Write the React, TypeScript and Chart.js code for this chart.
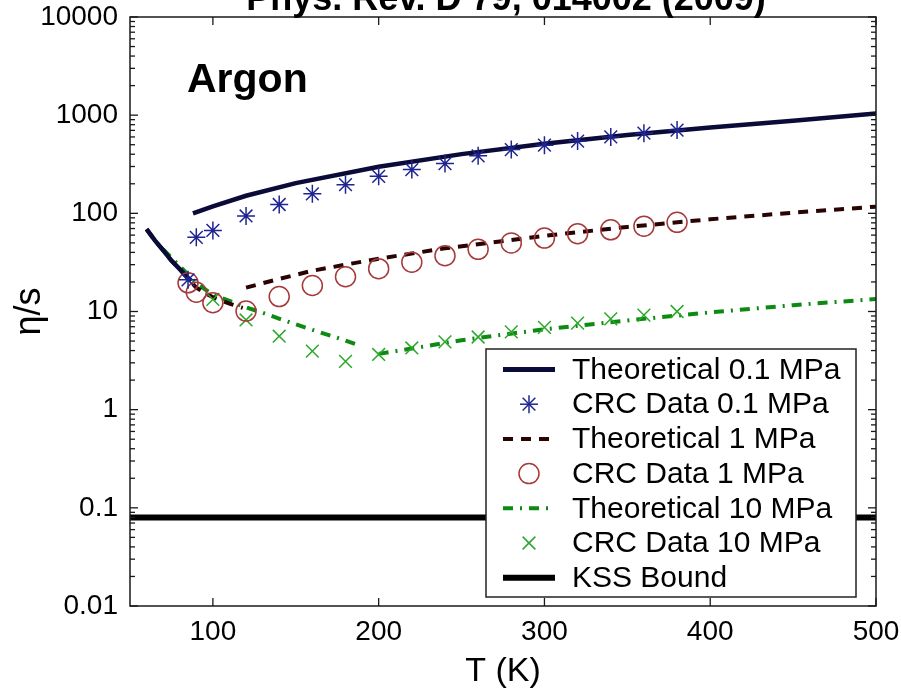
import React, { useEffect, useRef } from 'react';
import { Chart, registerables } from 'chart.js';

Chart.register(...registerables);

const FONT = '"Liberation Sans", Arial, Helvetica, sans-serif';

// ---- data ----
const theory01T = [60, 65, 70, 75, 80, 85, 87, 87.5, 88, 100, 120, 150, 200, 250, 300, 350, 400, 450, 500];
const theory01V = [69, 53, 42, 33, 27, 22, 20.5, null, 100, 118, 151, 203, 298, 401, 511, 627, 749, 876, 1040];

const crc01T = [85, 90, 100, 120, 140, 160, 180, 200, 220, 240, 260, 280, 300, 320, 340, 360, 380];
const crc01V = [21, 57, 67, 94, 123, 158, 196, 238, 279, 321, 385, 446, 495, 545, 600, 655, 705];

const theory1T = [60, 65, 70, 75, 80, 85, 90, 95, 100, 110, 118, 119, 120, 140, 160, 180, 200, 240, 300, 350, 400, 450, 500];
const theory1V = [69, 53, 42, 33, 27, 21.5, 17.5, 15.5, 14, 12, 10.9, null, 17.5, 21.5, 26, 30, 34.5, 44, 59, 72.7, 87, 101.5, 117];

const crc1T = [85, 90, 100, 120, 140, 160, 180, 200, 220, 240, 260, 280, 300, 320, 340, 360, 380];
const crc1V = [19.6, 15.7, 12.3, 10.1, 14.2, 18.4, 22.6, 27.3, 31.8, 37, 43, 50, 56, 62, 68, 74, 81];

const theory10T = [70, 80, 90, 100, 110, 118, 130, 145, 160, 175, 187, 193, 200, 220, 250, 300, 350, 400, 450, 500];
const theory10V = [43, 29, 19.5, 14.8, 12.8, 11.3, 9.7, 7.9, 6.5, 5.4, 4.6, null, 3.7, 4.2, 5.1, 6.6, 8.1, 9.8, 11.6, 13.4];

const crc10T = [100, 120, 140, 160, 180, 200, 220, 240, 260, 280, 300, 320, 340, 360, 380];
const crc10V = [13.3, 8.2, 5.6, 3.95, 3.1, 3.65, 4.25, 4.9, 5.5, 6.2, 6.9, 7.6, 8.4, 9.2, 10.0];

const kssT = [50, 500];
const kssV = [0.0796, 0.0796];

const xTicks = [100, 200, 300, 400, 500];
const yTicks = [0.01, 0.1, 1, 10, 100, 1000, 10000];
const yMinorMult = [2, 3, 4, 5, 6, 7, 8, 9];

const legendLabels = [
  'Theoretical 0.1 MPa',
  'CRC Data 0.1 MPa',
  'Theoretical 1 MPa',
  'CRC Data 1 MPa',
  'Theoretical 10 MPa',
  'CRC Data 10 MPa',
  'KSS Bound',
];

const titleText = 'Phys. Rev. D 79, 014002 (2009)';
const gasText = 'Argon';

const C01 = '#0a0b38';
const STAR = '#1f2590';
const C1 = '#2a0303';
const CIRC = '#a63a3a';
const C10 = '#0d8a12';
const XCOL = '#2aa82a';

const zip = (xs: number[], ys: (number | null)[]) => xs.map((x, i) => ({ x, y: ys[i] }));

const noPad = (s: any) => {
  s.paddingTop = 0;
  s.paddingBottom = 0;
  s.paddingLeft = 0;
  s.paddingRight = 0;
};

const decorPlugin = {
  id: 'decor',
  afterDraw(chart: any) {
    const { ctx, chartArea: a, scales } = chart;
    const x = scales.x;
    const y = scales.y;
    ctx.save();
    // frame
    ctx.strokeStyle = '#1a1a1a';
    ctx.lineWidth = 1.5;
    ctx.strokeRect(a.left, a.top, a.right - a.left, a.bottom - a.top);
    const seg = (x1: number, y1: number, x2: number, y2: number) => {
      ctx.beginPath();
      ctx.moveTo(x1, y1);
      ctx.lineTo(x2, y2);
      ctx.stroke();
    };
    ctx.lineWidth = 1.3;
    xTicks.forEach((v) => {
      const px = x.getPixelForValue(v);
      seg(px, a.bottom, px, a.bottom - 8);
      seg(px, a.top, px, a.top + 8);
    });
    yTicks.forEach((v, i) => {
      const py = y.getPixelForValue(v);
      seg(a.left, py, a.left + 8, py);
      seg(a.right, py, a.right - 8, py);
      if (i < yTicks.length - 1) {
        yMinorMult.forEach((m) => {
          const pm = y.getPixelForValue(v * m);
          seg(a.left, pm, a.left + 5, pm);
          seg(a.right, pm, a.right - 5, pm);
        });
      }
    });

    // title (partly cut at the top, as in the reference)
    ctx.fillStyle = '#000';
    ctx.font = `bold 36px ${FONT}`;
    ctx.textAlign = 'center';
    ctx.textBaseline = 'alphabetic';
    ctx.fillText(titleText, (a.left + a.right) / 2 + 3, a.top - 7);

    // gas label
    ctx.font = `bold 41px ${FONT}`;
    ctx.textAlign = 'left';
    ctx.fillText(gasText, a.left + 57, a.top + 75);

    // legend
    const lx = a.left + 356;
    const ly = a.top + 332;
    const lw = 370;
    const lh = 248;
    ctx.fillStyle = '#fff';
    ctx.fillRect(lx, ly, lw, lh);
    ctx.strokeStyle = '#222';
    ctx.lineWidth = 1.5;
    ctx.strokeRect(lx, ly, lw, lh);
    const rowH = 34.7;
    const sx1 = lx + 17;
    const sx2 = lx + 69;
    const mx = (sx1 + sx2) / 2;
    ctx.font = `30px ${FONT}`;
    ctx.textBaseline = 'middle';
    legendLabels.forEach((lab, i) => {
      const cy = ly + 20.5 + i * rowH;
      ctx.save();
      if (i === 0 || i === 2 || i === 4 || i === 6) {
        ctx.lineWidth = i === 6 ? 6 : i === 0 ? 5 : 4;
        ctx.strokeStyle = i === 0 ? C01 : i === 2 ? C1 : i === 4 ? C10 : '#000';
        if (i === 2) ctx.setLineDash([10, 8]);
        if (i === 4) ctx.setLineDash([10, 7, 2, 7]);
        seg(sx1, cy, sx2, cy);
      } else if (i === 1) {
        ctx.strokeStyle = STAR;
        ctx.lineWidth = 1.5;
        const r = 9;
        seg(mx - r, cy, mx + r, cy);
        seg(mx, cy - r, mx, cy + r);
        const d = r * Math.SQRT1_2;
        seg(mx - d, cy - d, mx + d, cy + d);
        seg(mx - d, cy + d, mx + d, cy - d);
      } else if (i === 3) {
        ctx.strokeStyle = CIRC;
        ctx.lineWidth = 1.5;
        ctx.beginPath();
        ctx.arc(mx, cy, 10, 0, Math.PI * 2);
        ctx.stroke();
      } else if (i === 5) {
        ctx.strokeStyle = XCOL;
        ctx.lineWidth = 1.5;
        const d = 9 * Math.SQRT1_2;
        seg(mx - d, cy - d, mx + d, cy + d);
        seg(mx - d, cy + d, mx + d, cy - d);
      }
      ctx.restore();
      ctx.fillStyle = '#000';
      ctx.textAlign = 'left';
      ctx.fillText(lab, lx + 86, cy + 1);
    });
    ctx.restore();
  },
};

export default function App() {
  const ref = useRef<HTMLCanvasElement | null>(null);
  useEffect(() => {
    if (!ref.current) return;
    const chart = new Chart(ref.current, {
      type: 'scatter',
      data: {
        datasets: [
          {
            label: legendLabels[0],
            data: zip(theory01T, theory01V),
            showLine: true,
            borderColor: C01,
            borderWidth: 4.5,
            pointRadius: 0,
            spanGaps: false,
            order: 2,
          },
          {
            label: legendLabels[1],
            data: zip(crc01T, crc01V),
            pointStyle: 'star',
            pointRadius: 9,
            borderColor: STAR,
            backgroundColor: STAR,
            pointBorderWidth: 1.5,
            order: 1,
          },
          {
            label: legendLabels[2],
            data: zip(theory1T, theory1V),
            showLine: true,
            borderColor: C1,
            borderWidth: 4,
            borderDash: [10, 8],
            pointRadius: 0,
            spanGaps: false,
            order: 3,
          },
          {
            label: legendLabels[3],
            data: zip(crc1T, crc1V),
            pointStyle: 'circle',
            pointRadius: 10,
            borderColor: CIRC,
            backgroundColor: 'rgba(0,0,0,0)',
            pointBorderWidth: 1.5,
            order: 1,
          },
          {
            label: legendLabels[4],
            data: zip(theory10T, theory10V),
            showLine: true,
            borderColor: C10,
            borderWidth: 4,
            borderDash: [10, 7, 2, 7],
            pointRadius: 0,
            spanGaps: false,
            order: 4,
          },
          {
            label: legendLabels[5],
            data: zip(crc10T, crc10V),
            pointStyle: 'crossRot',
            pointRadius: 9,
            borderColor: XCOL,
            backgroundColor: XCOL,
            pointBorderWidth: 1.5,
            order: 1,
          },
          {
            label: legendLabels[6],
            data: zip(kssT, kssV),
            showLine: true,
            borderColor: '#000',
            borderWidth: 6,
            pointRadius: 0,
            order: 5,
          },
        ],
      },
      options: {
        animation: false,
        responsive: true,
        maintainAspectRatio: false,
        layout: { padding: { top: 17, right: 25, left: 0, bottom: 0 } },
        plugins: {
          legend: { display: false },
          tooltip: { enabled: false },
          title: { display: false },
        },
        scales: {
          x: {
            type: 'linear',
            min: 50,
            max: 500,
            afterBuildTicks: (s: any) => {
              s.ticks = xTicks.map((v) => ({ value: v }));
            },
            afterFit: (s: any) => {
              s.height = 86;
              noPad(s);
            },
            grid: { display: false, drawTicks: false },
            border: { display: false },
            ticks: {
              font: { family: FONT, size: 28 },
              color: '#000',
              padding: 9,
              maxRotation: 0,
              autoSkip: false,
              callback: (v: any) => String(v),
            },
            title: {
              display: true,
              text: 'T (K)',
              font: { family: FONT, size: 34 },
              color: '#000',
              padding: { top: 5, bottom: 0 },
            },
          },
          y: {
            type: 'logarithmic',
            min: 0.01,
            max: 10000,
            afterBuildTicks: (s: any) => {
              s.ticks = yTicks.map((v) => ({ value: v }));
            },
            afterFit: (s: any) => {
              s.width = 130;
              noPad(s);
            },
            grid: { display: false, drawTicks: false },
            border: { display: false },
            ticks: {
              font: { family: FONT, size: 28 },
              color: '#000',
              padding: 12,
              autoSkip: false,
              callback: (v: any) => String(v),
            },
            title: {
              display: true,
              text: 'η/s',
              font: { family: FONT, size: 36 },
              color: '#000',
              padding: { top: 8, bottom: 0 },
            },
          },
        },
      },
      plugins: [decorPlugin],
    });
    return () => chart.destroy();
  }, []);

  return (
    <div style={{ position: 'absolute', left: 0, top: 0, width: 901, height: 692, background: '#fff' }}>
      <canvas ref={ref} />
    </div>
  );
}
